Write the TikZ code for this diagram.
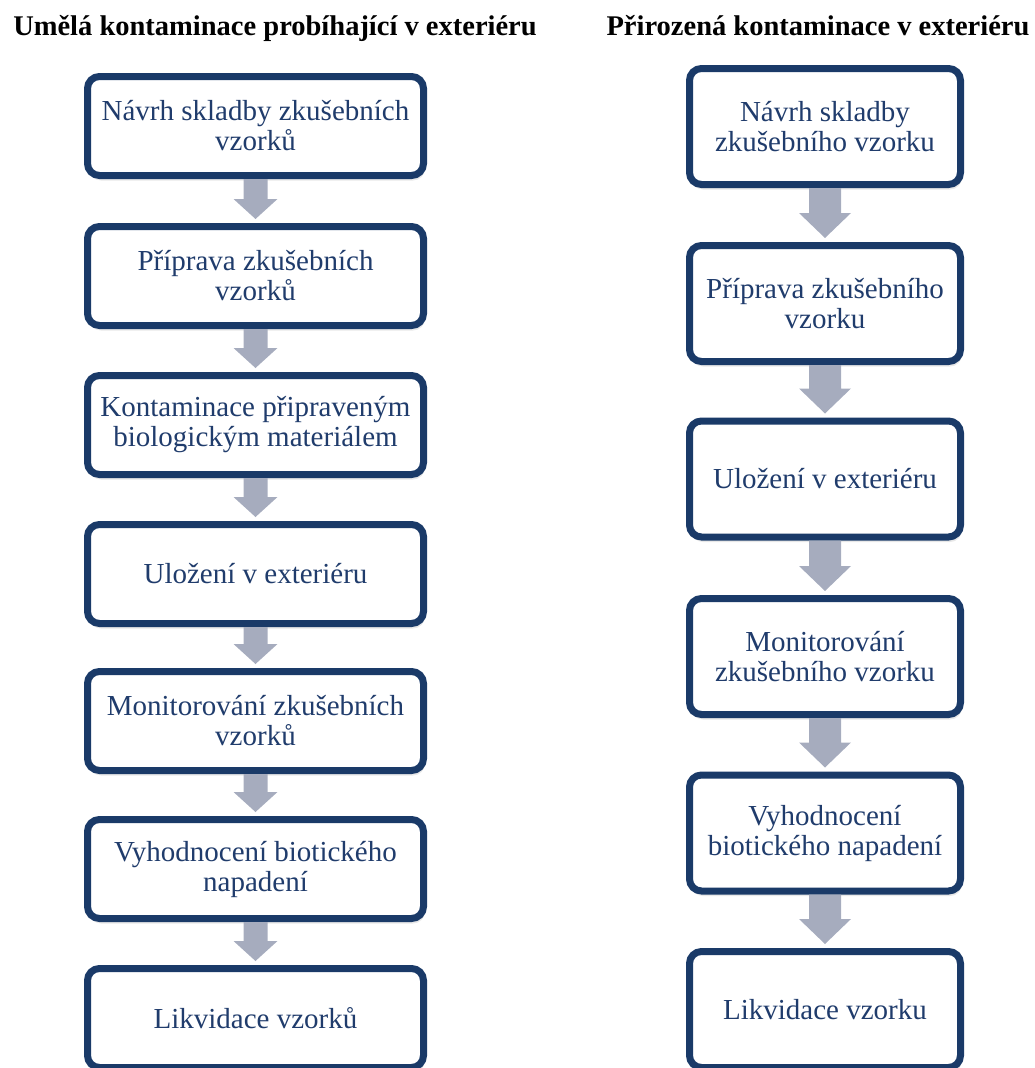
\documentclass[tikz,border=0pt]{standalone}
\usepackage{fontspec}
\setmainfont{Liberation Serif}
\usetikzlibrary{calc,shadows}

\definecolor{ramec}{RGB}{26,58,104}
\definecolor{pismo}{RGB}{32,60,108}
\definecolor{sipkafill}{RGB}{166,172,190}

\tikzset{
  krok/.style={draw=ramec, line width=7pt, rounded corners=12pt, fill=white,
    text=pismo, align=center, inner sep=0pt,
    font=\fontsize{29}{30}\selectfont,
    drop shadow={opacity=0.18, shadow xshift=1.5pt, shadow yshift=-5pt}},
  levy/.style={krok, minimum width=336pt, minimum height=99pt},
  pravy/.style={krok, minimum width=271pt, minimum height=116pt},
  nadpis/.style={anchor=base, font=\fontsize{28.5}{30}\selectfont\bfseries}
}

% plna sipka mezi dvema kroky: odkud, kam, pul driku, pul hlavy, delka hlavy
\newcommand{\sipka}[5]{%
  \fill[sipkafill] ($(#1.south)+(-#3,0)$) -- ($(#1.south)+(#3,0)$)
    -- ($(#2.north)+(#3,-4-#5)$) -- ($(#2.north)+(#4,-4-#5)$)
    -- ($(#2.north)+(0,-4)$) -- ($(#2.north)+(-#4,-4-#5)$)
    -- ($(#2.north)+(-#3,-4-#5)$) -- cycle;}

\begin{document}
\begin{tikzpicture}[x=1pt, y=-1pt]
\useasboundingbox (0,0) rectangle (1035,1068);

% nadpisy
\node[nadpis] (tl) at (275,35) {Umělá kontaminace probíhající v exteriéru};
\node[nadpis] (tr) at (818,35) {Přirozená kontaminace v exteriéru};

% umela kontaminace
\node[levy] (l1) at (255.5,126) {Návrh skladby zkušebních\\vzorků};
\node[levy] (l2) at (255.5,276) {Příprava zkušebních\\vzorků};
\node[levy] (l3) at (255.5,425) {Kontaminace připraveným\\biologickým materiálem};
\node[levy] (l4) at (255.5,574) {Uložení v exteriéru};
\node[levy] (l5) at (255.5,721) {Monitorování zkušebních\\vzorků};
\node[levy] (l6) at (255.5,869) {Vyhodnocení biotického\\napadení};
\node[levy] (l7) at (255.5,1018) {Likvidace vzorků};

% prirozena kontaminace
\node[pravy] (p1) at (825,126.5) {Návrh skladby\\zkušebního vzorku};
\node[pravy] (p2) at (825,303.5) {Příprava zkušebního\\vzorku};
\node[pravy] (p3) at (825,479) {Uložení v exteriéru};
\node[pravy] (p4) at (825,656.5) {Monitorování\\zkušebního vzorku};
\node[pravy] (p5) at (825,833) {Vyhodnocení\\biotického napadení};
\node[pravy] (p6) at (825,1009.5) {Likvidace vzorku};

\foreach \a/\b in {1/2,2/3,3/4,4/5,5/6,6/7}
  \sipka{l\a}{l\b}{12}{22}{20};
\foreach \a/\b in {1/2,2/3,3/4,4/5,5/6}
  \sipka{p\a}{p\b}{16}{26}{25};
\end{tikzpicture}
\end{document}
